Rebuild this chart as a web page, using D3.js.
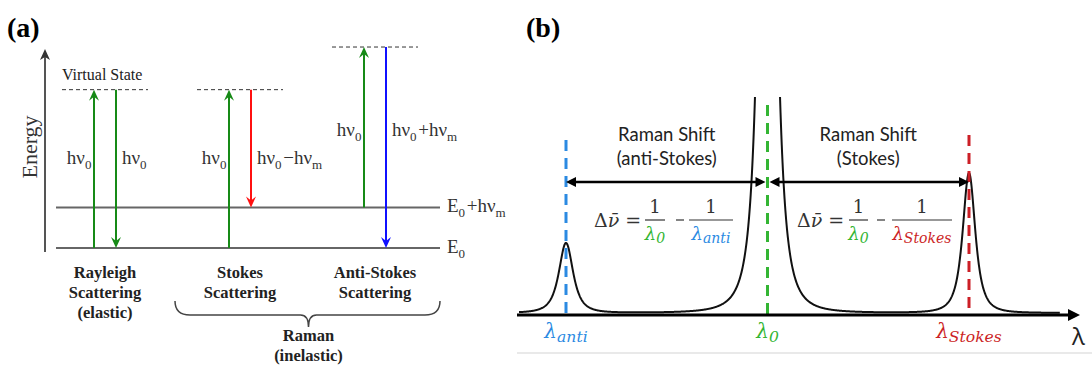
<!DOCTYPE html>
<html lang="en">
<head>
<meta charset="UTF-8">
<title>Rayleigh and Raman scattering</title>
<script src="https://cdn.jsdelivr.net/npm/d3@7"></script>
<style>
  body { margin: 0; background: #fff; }
  svg { display: block; }
</style>
</head>
<body>
<script>
// ---- panel (a) data: energy levels and transitions ----
var processes = ["Rayleigh", "Stokes", "Anti-Stokes"];
var processTitle = [["Rayleigh", "Scattering", "(elastic)"], ["Stokes", "Scattering"], ["Anti-Stokes", "Scattering"]];
var groundLevels = [0, 1];                  // E0, E0+hvm
var levelLabels = ["E0", "E0+hνm"];
var virtualLevel = [3.9, 3.9, 4.95];       // virtual state for each process
var upFrom = [0, 0, 1];                     // excitation starts
var downTo = [0, 1, 0];                     // emission ends
var downKind = ["rayleigh", "stokes", "anti"];
var upLabel = ["hν0", "hν0", "hν0"];
var downLabel = ["hν0", "hν0-hνm", "hν0+hνm"];

// ---- panel (b) data: spectrum peaks ----
var peakNames = ["anti", "0", "Stokes"];
var peakPos = [-1, 0, 1];
var peakHeight = [0.5, 6.5, 1.0];
var peakWidth = [0.054, 0.049, 0.048];
var peakPower = 1.5;   // slightly sharper than a pure Lorentzian

var width = 1092, height = 367;
var svg = d3.select("body").append("svg").attr("width", width).attr("height", height);

var serif = "'Liberation Serif', 'Times New Roman', serif";
var sans = "Lato, 'Open Sans', sans-serif";

// colours
var arrowColor = d3.scaleOrdinal().domain(["excite", "rayleigh", "stokes", "anti"])
    .range(["#178a17", "#178a17", "#ff1010", "#1010ff"]);
var peakColor = d3.scaleOrdinal().domain(peakNames).range(["#2b8ae2", "#33b533", "#cc1f26"]);

// ======================= panel (a) =======================
var ga = svg.append("g");
var yE = d3.scaleLinear().domain([0, 5]).range([248, 45]);
var xP = d3.scalePoint().domain(processes).range([105, 375]);
var arrowGap = 11;

ga.append("text").attr("x", 7).attr("y", 37).attr("font-family", serif)
    .attr("font-size", 28).attr("font-weight", "bold").text("(a)");

// energy axis
ga.append("line").attr("x1", 45).attr("x2", 45).attr("y1", 252).attr("y2", 56)
    .attr("stroke", "#555").attr("stroke-width", 2);
ga.append("path").attr("d", "M45,49 L40,60 L45,57 L50,60 Z").attr("fill", "#333");
ga.append("text").attr("transform", "translate(37,147) rotate(-90)")
    .attr("text-anchor", "middle").attr("font-family", serif).attr("font-size", 22)
    .attr("fill", "#333").text("Energy");

// real levels
ga.selectAll(".level").data(groundLevels).enter().append("line")
    .attr("x1", 56).attr("x2", 440)
    .attr("y1", function (d) { return yE(d); }).attr("y2", function (d) { return yE(d); })
    .attr("stroke", "#666").attr("stroke-width", 2);

function subText(sel, str) {
    // write "hν0-hνm" style label with subscripts
    var parts = str.split(/([0m])/);
    parts.forEach(function (p) {
        if (p === "") return;
        if (p === "0" || p === "m") {
            sel.append("tspan").attr("font-size", 13).attr("dy", 5).text(p);
            sel.append("tspan").attr("dy", -5).text("\u200a");
        } else {
            sel.append("tspan").text(p.replace("-", "\u2212"));
        }
    });
}

var lvLab = ga.selectAll(".lvlab").data(groundLevels).enter().append("text")
    .attr("x", 447).attr("y", function (d) { return yE(d) + 5; })
    .attr("font-family", serif).attr("font-size", 19).attr("fill", "#333");
lvLab.each(function (d, i) { subText(d3.select(this), levelLabels[i]); });

ga.append("text").attr("x", 62).attr("y", 80).attr("font-family", serif)
    .attr("font-size", 16).attr("fill", "#222").text("Virtual State");

function arrowHead(g, x, y, dir, color) {
    // tip at (x,y); dir = -1 points up, 1 points down
    var s = dir;
    g.append("path")
        .attr("d", "M" + x + "," + y + " L" + (x - 5) + "," + (y - 11 * s) + " L" + x + "," + (y - 7 * s) +
            " L" + (x + 5) + "," + (y - 11 * s) + " Z")
        .attr("fill", color);
}

processes.forEach(function (p, i) {
    var cx = xP(p);
    var xu = cx - arrowGap, xd = cx + arrowGap;
    var yv = yE(virtualLevel[i]);
    // virtual state
    ga.append("line").attr("x1", cx - 43).attr("x2", cx + 43).attr("y1", yv).attr("y2", yv)
        .attr("stroke", "#333").attr("stroke-width", 1).attr("stroke-dasharray", "4,3");
    // excitation
    ga.append("line").attr("x1", xu).attr("x2", xu).attr("y1", yE(upFrom[i])).attr("y2", yv + 6)
        .attr("stroke", arrowColor("excite")).attr("stroke-width", 2);
    arrowHead(ga, xu, yv, -1, arrowColor("excite"));
    // emission
    var c = arrowColor(downKind[i]);
    ga.append("line").attr("x1", xd).attr("x2", xd).attr("y1", yv).attr("y2", yE(downTo[i]) - 6)
        .attr("stroke", c).attr("stroke-width", 2);
    arrowHead(ga, xd, yE(downTo[i]), 1, c);

    var ly = yE(virtualLevel[i] / 2 + upFrom[i] / 6) - 5;
    var t1 = ga.append("text").attr("x", xu - 1).attr("y", ly).attr("text-anchor", "end")
        .attr("font-family", serif).attr("font-size", 19).attr("fill", "#333");
    subText(t1, upLabel[i]);
    var t2 = ga.append("text").attr("x", xd + 6).attr("y", ly)
        .attr("font-family", serif).attr("font-size", 19).attr("fill", "#333");
    subText(t2, downLabel[i]);

    processTitle[i].forEach(function (line, k) {
        ga.append("text").attr("x", cx).attr("y", 278 + k * 20).attr("text-anchor", "middle")
            .attr("font-family", serif).attr("font-size", 16.5).attr("font-weight", "bold")
            .attr("fill", "#222").text(line);
    });
});

// brace under Stokes / Anti-Stokes
var bx0 = 175, bx1 = 440, bm = (xP("Stokes") + xP("Anti-Stokes")) / 2 + 1, by = 315;
ga.append("path")
    .attr("d", "M" + bx0 + "," + (by - 14) + " Q" + bx0 + "," + by + " " + (bx0 + 15) + "," + by +
        " L" + (bm - 8) + "," + by + " Q" + bm + "," + by + " " + bm + "," + (by + 12) +
        " Q" + bm + "," + by + " " + (bm + 8) + "," + by +
        " L" + (bx1 - 15) + "," + by + " Q" + bx1 + "," + by + " " + bx1 + "," + (by - 14))
    .attr("fill", "none").attr("stroke", "#444").attr("stroke-width", 1.5);
ga.append("text").attr("x", bm).attr("y", 341).attr("text-anchor", "middle")
    .attr("font-family", serif).attr("font-size", 16.5).attr("font-weight", "bold").attr("fill", "#222").text("Raman");
ga.append("text").attr("x", bm).attr("y", 361).attr("text-anchor", "middle")
    .attr("font-family", serif).attr("font-size", 16.5).attr("font-weight", "bold").attr("fill", "#222").text("(inelastic)");

// ======================= panel (b) =======================
var gb = svg.append("g");
var xS = d3.scaleLinear().domain([-1, 1]).range([566, 969]);
var yS = d3.scaleLinear().domain([0, 1]).range([313, 173]);
var axisY = 315;

gb.append("text").attr("x", 526).attr("y", 37).attr("font-family", serif)
    .attr("font-size", 28).attr("font-weight", "bold").text("(b)");

gb.append("line").attr("x1", 517).attr("x2", 1092).attr("y1", 353).attr("y2", 353)
    .attr("stroke", "#e2e2e2").attr("stroke-width", 1.5);

// spectrum
var xs = d3.range(xS.invert(519), xS.invert(1060), 0.002);
var spectrum = xs.map(function (x) {
    var v = 0;
    peakPos.forEach(function (p, i) {
        var g2 = peakWidth[i] * peakWidth[i];
        v += peakHeight[i] * Math.pow(g2 / ((x - p) * (x - p) + g2), peakPower);
    });
    return [x, v];
});
svg.append("clipPath").attr("id", "clipS").append("rect")
    .attr("x", 517).attr("y", 97).attr("width", 560).attr("height", 230);
gb.append("path").datum(spectrum)
    .attr("clip-path", "url(#clipS)")
    .attr("d", d3.line().x(function (d) { return xS(d[0]); }).y(function (d) { return yS(d[1]); }))
    .attr("fill", "none").attr("stroke", "#111").attr("stroke-width", 2);

// dashed markers
var dashTop = [140, 105, 135];
gb.selectAll(".mark").data(peakNames).enter().append("line")
    .attr("x1", function (d, i) { return xS(peakPos[i]); })
    .attr("x2", function (d, i) { return xS(peakPos[i]); })
    .attr("y1", function (d, i) { return dashTop[i]; }).attr("y2", axisY)
    .attr("stroke", function (d) { return peakColor(d); })
    .attr("stroke-width", 3).attr("stroke-dasharray", "11,7");

// wavelength axis
gb.append("line").attr("x1", 517).attr("x2", 1072).attr("y1", axisY).attr("y2", axisY)
    .attr("stroke", "#000").attr("stroke-width", 3);
gb.append("path").attr("d", "M1080," + axisY + " L1068," + (axisY - 6) + " L1068," + (axisY + 6) + " Z")
    .attr("fill", "#000");
gb.append("text").attr("x", 1072).attr("y", 345).attr("font-family", "'Open Sans', sans-serif")
    .attr("font-size", 24).attr("fill", "#222").text("λ");

// Raman shift double arrows
function dblArrow(x1, x2, y) {
    gb.append("line").attr("x1", x1 + 6).attr("x2", x2 - 6).attr("y1", y).attr("y2", y)
        .attr("stroke", "#000").attr("stroke-width", 2.5);
    gb.append("path").attr("d", "M" + x1 + "," + y + " L" + (x1 + 10) + "," + (y - 5) + " L" + (x1 + 10) + "," + (y + 5) + " Z");
    gb.append("path").attr("d", "M" + x2 + "," + y + " L" + (x2 - 10) + "," + (y - 5) + " L" + (x2 - 10) + "," + (y + 5) + " Z");
}
dblArrow(xS(-1), xS(0) - 2, 182);
dblArrow(xS(0) + 2, xS(1), 182);

var shiftTitle = [["Raman Shift", "(anti-Stokes)"], ["Raman Shift", "(Stokes)"]];
shiftTitle.forEach(function (lines, i) {
    var cx = (xS(peakPos[i]) + xS(peakPos[i + 1])) / 2;
    lines.forEach(function (l, k) {
        gb.append("text").attr("x", cx).attr("y", 141 + k * 24).attr("text-anchor", "middle")
            .attr("font-family", sans).attr("font-size", 18.5).attr("fill", "#222").text(l);
    });
});

var mathFont = "'DejaVu Serif', serif";
function lambda(sel, name, x, y, size) {
    var t = sel.append("text").attr("x", x).attr("y", y).attr("text-anchor", "middle")
        .attr("font-family", mathFont).attr("font-style", "italic").attr("font-size", size)
        .attr("fill", peakColor(name));
    t.append("tspan").text("λ");
    t.append("tspan").attr("font-size", size * 0.78).attr("dy", size * 0.18).text(name);
    return t;
}

// formulas
function formula(x0, f1, minus, f2, name) {
    var t = gb.append("text").attr("x", x0).attr("y", 227).attr("font-family", mathFont)
        .attr("font-size", 19).attr("fill", "#333");
    t.append("tspan").text("Δ");
    t.append("tspan").attr("font-style", "italic").text("ν\u0304");
    t.append("tspan").text(" =");
    [[f1, "0"], [f2, name]].forEach(function (f) {
        gb.append("line").attr("x1", f[0][0]).attr("x2", f[0][1]).attr("y1", 220).attr("y2", 220)
            .attr("stroke", "#333").attr("stroke-width", 1.2);
        var c = (f[0][0] + f[0][1]) / 2;
        gb.append("text").attr("x", c).attr("y", 213).attr("text-anchor", "middle")
            .attr("font-family", mathFont).attr("font-size", 18).attr("fill", "#333").text("1");
        lambda(gb, f[1], c, 240, 18);
    });
    gb.append("line").attr("x1", minus - 4).attr("x2", minus + 4).attr("y1", 220).attr("y2", 220)
        .attr("stroke", "#333").attr("stroke-width", 1.2);
}
formula(594, [645, 665], 680, [689, 733], "anti");
formula(797, [849, 868], 881, [892, 952], "Stokes");

// labels below axis
peakNames.forEach(function (n, i) {
    lambda(gb, n, xS(peakPos[i]), 338, 20);
});
</script>
</body>
</html>
